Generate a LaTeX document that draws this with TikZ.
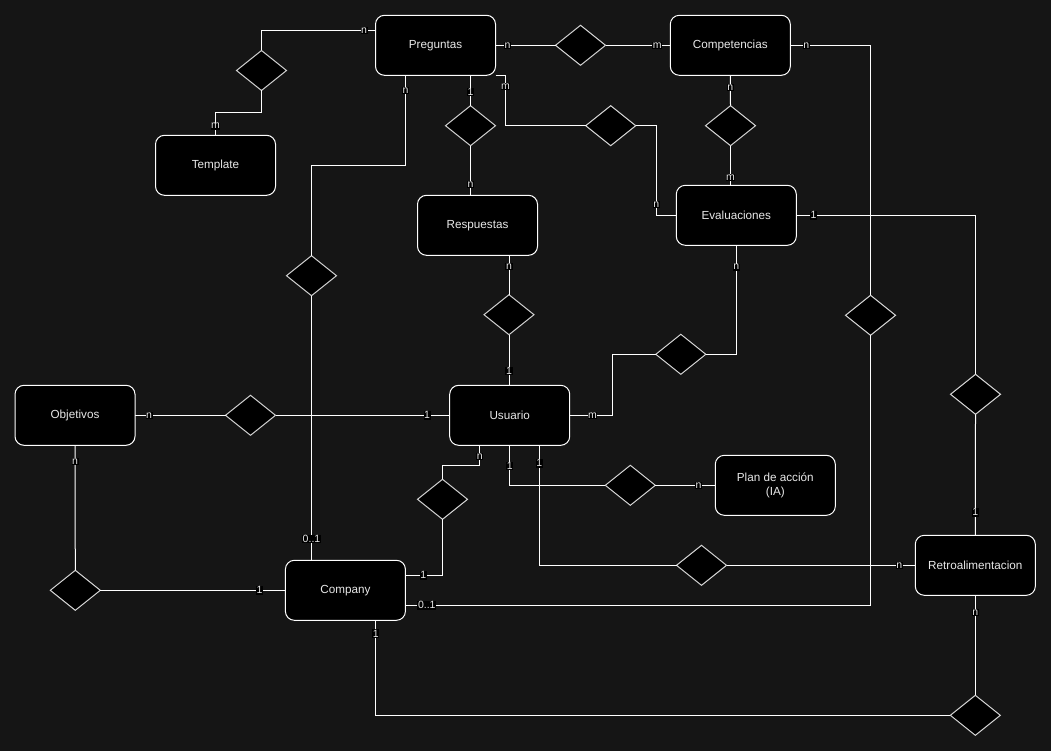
\documentclass[tikz,border=0pt]{standalone}
\usepackage{fontspec}
\setmainfont{Liberation Sans}
\usetikzlibrary{shapes.geometric, calc}
\usepackage{xcolor}
\definecolor{Canvas}{HTML}{151515}
\definecolor{RelLine}{HTML}{D6D6D6}
\definecolor{TextLight}{HTML}{E8E8E8}

\begin{document}
\begin{tikzpicture}[x=1pt, y=-1pt,
        entity/.style={rectangle, draw=white, line width=1pt, fill=black, rounded corners=9pt, minimum width=120pt, minimum height=60pt, outer sep=0pt, align=center, text=TextLight, font=\fontsize{11.7}{14}\selectfont},
        rel/.style={diamond, draw=RelLine, line width=1pt, fill=black, minimum width=50pt, minimum height=40pt, inner sep=0pt, outer sep=0pt},
        link/.style={draw=white, line width=1pt},
        card/.style={fill=black, text=TextLight, inner sep=0.6pt, font=\fontsize{10.5}{11}\selectfont}
    ]
    % Canvas
    \fill[Canvas] (0,0) rectangle (1051,751);
    \useasboundingbox (0,0) rectangle (1051,751);

    % Entities
    \node[entity] (preg) at (435.5,45.3) {Preguntas};
    \node[entity] (compt) at (730.3,45.3) {Competencias};
    \node[entity] (tmpl) at (215.5,165.3) {Template};
    \node[entity] (resp) at (477.5,225.3) {Respuestas};
    \node[entity] (evalu) at (736.3,215.3) {Evaluaciones};
    \node[entity] (obj) at (75,415.3) {Objetivos};
    \node[entity] (user) at (509.7,415.3) {Usuario};
    \node[entity] (company) at (345.4,590.3) {Company};
    \node[entity] (plan) at (775.3,485.3) {Plan de acción\\(IA)};
    \node[entity] (retro) at (975.3,565.3) {Retroalimentacion};

    % Relations
    \node[rel] (dPreTpl) at (261.5,70.5) {};
    \node[rel] (dPreComp) at (580.5,45.3) {};
    \node[rel] (dPreResp) at (470.5,125.7) {};
    \node[rel] (dPreEval) at (610.7,125.7) {};
    \node[rel] (dCompEval) at (730.5,125.7) {};
    \node[rel] (dPreCo) at (311.5,275.7) {};
    \node[rel] (dRespUser) at (509,314.7) {};
    \node[rel] (dEvalUser) at (680.8,354.3) {};
    \node[rel] (dCompCo) at (870.5,315.3) {};
    \node[rel] (dEvalRetro) at (975.5,394.3) {};
    \node[rel] (dObjUser) at (250.5,415.3) {};
    \node[rel] (dUserCo) at (442.5,499.3) {};
    \node[rel] (dUserPlan) at (630.3,485.3) {};
    \node[rel] (dUserRetro) at (701.5,565.3) {};
    \node[rel] (dObjCo) at (75.3,590.3) {};
    \node[rel] (dCoRetro) at (975.3,715.3) {};

    % Connections
    \draw[link] ($(preg.north west)!.25!(preg.south west)$) -| node[card, pos=.05]{n} (dPreTpl.north);
    \draw[link] (tmpl.north) -- node[card, pos=.4]{m} ++(0,-23) -| (dPreTpl.south);
    \draw[link] (preg.east) -- node[card, pos=.2]{n} (dPreComp.west);
    \draw[link] (compt.west) -- node[card, pos=.2]{m} (dPreComp.east);
    \draw[link] ($(preg.south)+(35,0)$) -- node[card, pos=.55]{1} (dPreResp.north);
    \draw[link] (dPreResp.south) -- node[card, pos=.78]{n} (dPreResp.south |- resp.north);
    \draw[link] (preg.south east) -- ++(10,0) |- node[card, pos=.11]{m} (dPreEval.west);
    \draw[link] (evalu.west) -- ++(-20,0) |- node[card, pos=.06]{n} (dPreEval.east);
    \draw[link] (compt.south) -- node[card, pos=.4]{n} (dCompEval.north);
    \draw[link] (dCompEval.south |- evalu.north) -- node[card, pos=.2]{m} (dCompEval.south);
    \draw[link] ($(preg.south)+(-30,0)$) -- node[card, pos=.17]{n} ++(0,90) -| (dPreCo.north);
    \draw[link] (dPreCo.south |- company.north) -- node[card, pos=.08]{0..1} (dPreCo.south);
    \draw[link] ($(resp.south)+(31.5,0)$) -- node[card, pos=.29]{n} (dRespUser.north);
    \draw[link] (dRespUser.south) -- node[card, pos=.72]{1} (dRespUser.south |- user.north);
    \draw[link] (evalu.south) |- node[card, pos=.1]{n} (dEvalUser.east);
    \draw[link] (user.east) -- node[card, pos=.53]{m} ++(43,0) |- (dEvalUser.west);
    \draw[link] (compt.east) -| node[card, pos=.1]{n} (dCompCo.north);
    \draw[link] ($(company.east)+(0,15)$) -| node[card, pos=.023]{0..1} (dCompCo.south);
    \draw[link] (evalu.east) -| node[card, pos=.048]{1} (dEvalRetro.north);
    \draw[link] (dEvalRetro.south) -- node[card, pos=.81]{1} (retro.north);
    \draw[link] (obj.east) -- node[card, pos=.155]{n} (dObjUser.west);
    \draw[link] (user.west) -- node[card, pos=.13]{1} (dObjUser.east);
    \draw[link] ($(user.south)+(-30,0)$) -- node[card, pos=.55]{n} ++(0,20) -| (dUserCo.north);
    \draw[link] ($(company.east)+(0,-15)$) -| node[card, pos=.24]{1} (dUserCo.south);
    \draw[link] (user.south) |- node[card, pos=.26]{1} (dUserPlan.west);
    \draw[link] (plan.west) -- node[card, pos=.28]{n} (dUserPlan.east);
    \draw[link] ($(user.south)+(29.6,0)$) |- node[card, pos=.075]{1} (dUserRetro.west);
    \draw[link] (retro.west) -- node[card, pos=.085]{n} (dUserRetro.east);
    \draw[link] (obj.south) -- node[card, pos=.13]{n} (dObjCo.north);
    \draw[link] (company.west) -- node[card, pos=.14]{1} (dObjCo.east);
    \draw[link] ($(company.south)+(30.3,0)$) |- node[card, pos=.07]{1} (dCoRetro.west);
    \draw[link] (retro.south) -- node[card, pos=.17]{n} (dCoRetro.north);
\end{tikzpicture}
\end{document}
